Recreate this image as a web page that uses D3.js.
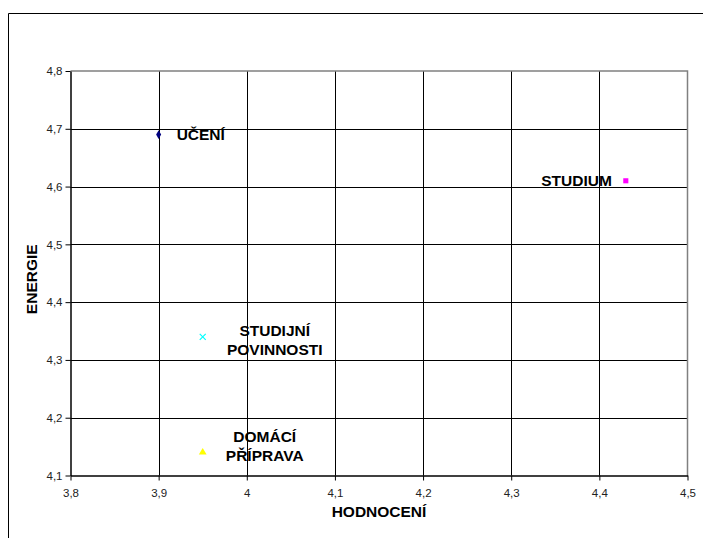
<!DOCTYPE html>
<html><head><meta charset="utf-8">
<script src="https://cdn.jsdelivr.net/npm/d3@7"></script>
<style>
body{margin:0;background:#fff;}
text{font-family:Arial,"Liberation Sans",sans-serif;}
</style></head><body>
<svg id="c" width="703" height="538"></svg>
<script>
const names = ["UČENÍ", "STUDIUM", "STUDIJNÍ POVINNOSTI", "DOMÁCÍ PŘÍPRAVA"];
const hodnoceni = [3.90, 4.43, 3.95, 3.95];
const energie = [4.69, 4.61, 4.34, 4.14];
const colors = ["#000080", "#FF00FF", "#00FFFF", "#FFFF00"];
const shapes = ["diamond", "square", "x", "triangle"];
const labelLines = [["UČENÍ"], ["STUDIUM"], ["STUDIJNÍ", "POVINNOSTI"], ["DOMÁCÍ", "PŘÍPRAVA"]];
const xTicks = [3.8, 3.9, 4.0, 4.1, 4.2, 4.3, 4.4, 4.5];
const yTicks = [4.1, 4.2, 4.3, 4.4, 4.5, 4.6, 4.7, 4.8];
const xTitle = "HODNOCENÍ", yTitle = "ENERGIE";

const svg = d3.select("#c");
const L = 70.5, R = 687.5, T = 71, B = 475.5;
const x = d3.scaleLinear().domain([3.8, 4.5]).range([L, R]);
const y = d3.scaleLinear().domain([4.1, 4.8]).range([B, T]);
const fmt = d => String(+d.toFixed(1)).replace(".", ",");
const FS = 15.5;

// outer frame
svg.append("path").attr("d", `M8.5,545 V13.5 H710`).attr("fill","none").attr("stroke","#000").attr("stroke-width",1);

// grid
svg.append("g").selectAll("line").data(xTicks.slice(1, -1)).join("line")
  .attr("x1", d => Math.round(x(d)) + 0.5).attr("x2", d => Math.round(x(d)) + 0.5)
  .attr("y1", T).attr("y2", B).attr("stroke", "#000");
svg.append("g").selectAll("line").data(yTicks.slice(1, -1)).join("line")
  .attr("y1", d => Math.round(y(d)) + 0.5).attr("y2", d => Math.round(y(d)) + 0.5)
  .attr("x1", L).attr("x2", R).attr("stroke", "#000");
// top/right border gray
svg.append("path").attr("d", `M${L},${T} H${R} V${B}`).attr("fill","none").attr("stroke","#808080").attr("stroke-width",1.5);

// axes
const xa = svg.append("g").attr("transform", `translate(0,${B})`)
  .call(d3.axisBottom(x).tickValues(xTicks).tickFormat(fmt).tickSize(5).tickSizeOuter(0));
const ya = svg.append("g").attr("transform", `translate(${L},0)`)
  .call(d3.axisLeft(y).tickValues(yTicks).tickFormat(fmt).tickSize(5).tickSizeOuter(0));
[xa, ya].forEach(a => {
  a.select(".domain").attr("stroke", "#000").attr("stroke-width", 1.5);
  a.selectAll(".tick line").attr("stroke", "#000");
  a.selectAll(".tick text").attr("font-family", "Arial, 'Liberation Sans', sans-serif")
    .attr("font-size", 11.5).attr("fill", "#222");
});
xa.selectAll(".tick text").attr("dy", "1.2em");
ya.selectAll(".tick text").attr("x", -8);

// titles
svg.append("text").attr("x", (L + R) / 2).attr("y", 517).attr("text-anchor", "middle")
  .attr("font-weight", "bold").attr("font-size", FS).attr("fill", "#000").text(xTitle);
svg.append("text").attr("transform", `translate(37,${(T + B) / 2 + 6}) rotate(-90)`).attr("text-anchor", "middle")
  .attr("font-weight", "bold").attr("font-size", FS).attr("fill", "#000").text(yTitle);

// markers
const symMap = { diamond: d3.symbolDiamond, square: d3.symbolSquare, triangle: d3.symbolTriangle };
names.forEach((n, i) => {
  const px = x(hodnoceni[i]), py = y(energie[i]);
  if (shapes[i] === "x") {
    const s = 3;
    svg.append("path").attr("d", `M${px - s},${py - s}L${px + s},${py + s}M${px - s},${py + s}L${px + s},${py - s}`)
      .attr("stroke", colors[i]).attr("stroke-width", 1.2).attr("fill", "none");
  } else {
    svg.append("path").attr("transform", `translate(${px},${py})`)
      .attr("d", d3.symbol().type(symMap[shapes[i]]).size(shapes[i] === "diamond" ? 22 : 26)())
      .attr("fill", colors[i]);
  }
});

// labels
const labelPos = [
  { dx: 18, dy: 0, anchor: "start" },
  { dx: -14, dy: 0, anchor: "end" },
  { dx: 72, dy: 3, anchor: "middle" },
  { dx: 62, dy: -6, anchor: "middle" }
];
names.forEach((n, i) => {
  const px = x(hodnoceni[i]), py = y(energie[i]);
  const lines = labelLines[i], p = labelPos[i], lh = 19;
  const t = svg.append("text").attr("text-anchor", p.anchor).attr("font-weight", "bold")
    .attr("font-size", FS).attr("fill", "#000");
  lines.forEach((ln, k) => {
    t.append("tspan").attr("x", px + p.dx)
      .attr("y", py + p.dy + (k - (lines.length - 1) / 2) * lh + 5.5).text(ln);
  });
});
</script></body></html>
